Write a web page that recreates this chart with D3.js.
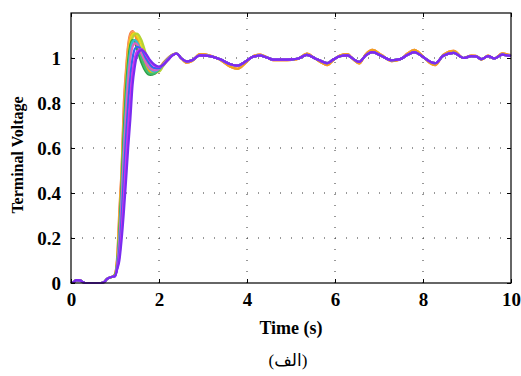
<!DOCTYPE html>
<html><head><meta charset="utf-8">
<script src="https://cdn.jsdelivr.net/npm/d3@7"></script>
<style>
html,body{margin:0;padding:0;background:#fff;}
svg{display:block;}
</style></head>
<body>
<svg id="chart" width="521" height="376"></svg>
<script>
// ---- data ----
const xTicks = [0, 2, 4, 6, 8, 10];
const yTicks = [0, 0.2, 0.4, 0.6, 0.8, 1];
const xTickLabels = ["0", "2", "4", "6", "8", "10"];
const yTickLabels = ["0", "0.2", "0.4", "0.6", "0.8", "1"];

// shared start (all runs identical before the step)
const preT = [0, 0.06, 0.12, 0.2, 0.27, 0.32, 0.68, 0.75, 0.82, 0.88, 0.94];
const preV = [0, 0.004, 0.013, 0.012, 0.004, 0, 0, 0.004, 0.018, 0.024, 0.028];

// step response part, per run
const headT = [1.0, 1.05, 1.1, 1.15, 1.2, 1.25, 1.3, 1.35, 1.4, 1.45, 1.5, 1.6, 1.7, 1.8, 1.9, 2.0, 2.1, 2.2, 2.3, 2.4];
const seriesColors = ["#f5793a", "#ff9f6b", "#f0a020", "#e8d820", "#b5d334", "#2e9e45", "#40c070", "#35b8d8", "#e060c0", "#3366ee", "#cc33ee", "#7a2cf0"];
const seriesHeads = [
  [0.04, 0.12, 0.33, 0.51, 0.80, 0.95, 1.06, 1.11, 1.12, 1.105, 1.075, 1.01, 0.96, 0.935, 0.935, 0.955, 0.98, 1.0, 1.015, 1.02],
  [0.04, 0.11, 0.30, 0.50, 0.76, 0.93, 1.05, 1.10, 1.115, 1.11, 1.09, 1.03, 0.97, 0.94, 0.93, 0.945, 0.975, 1.0, 1.015, 1.02],
  [0.038, 0.105, 0.28, 0.48, 0.73, 0.90, 1.03, 1.09, 1.11, 1.105, 1.085, 1.02, 0.965, 0.94, 0.935, 0.95, 0.975, 0.998, 1.014, 1.02],
  [0.035, 0.10, 0.26, 0.46, 0.70, 0.88, 1.01, 1.08, 1.105, 1.11, 1.10, 1.06, 0.99, 0.95, 0.935, 0.945, 0.97, 0.995, 1.012, 1.02],
  [0.035, 0.09, 0.22, 0.42, 0.64, 0.82, 0.96, 1.05, 1.09, 1.105, 1.108, 1.08, 1.02, 0.965, 0.94, 0.94, 0.965, 0.99, 1.01, 1.02],
  [0.035, 0.09, 0.24, 0.44, 0.68, 0.86, 0.99, 1.06, 1.08, 1.07, 1.04, 0.98, 0.94, 0.925, 0.93, 0.95, 0.975, 0.995, 1.012, 1.02],
  [0.034, 0.085, 0.21, 0.40, 0.63, 0.81, 0.95, 1.04, 1.075, 1.08, 1.065, 1.0, 0.95, 0.93, 0.932, 0.95, 0.973, 0.995, 1.012, 1.02],
  [0.03, 0.08, 0.20, 0.38, 0.60, 0.79, 0.94, 1.03, 1.07, 1.08, 1.07, 1.03, 0.98, 0.95, 0.94, 0.95, 0.972, 0.995, 1.012, 1.02],
  [0.03, 0.08, 0.19, 0.36, 0.56, 0.75, 0.90, 1.00, 1.05, 1.065, 1.06, 1.02, 0.98, 0.955, 0.945, 0.952, 0.972, 0.995, 1.012, 1.02],
  [0.03, 0.07, 0.15, 0.29, 0.47, 0.65, 0.80, 0.92, 1.0, 1.04, 1.05, 1.04, 1.0, 0.97, 0.955, 0.955, 0.97, 0.993, 1.012, 1.02],
  [0.03, 0.065, 0.12, 0.23, 0.38, 0.55, 0.70, 0.83, 0.94, 1.0, 1.03, 1.04, 1.015, 0.985, 0.965, 0.96, 0.97, 0.99, 1.01, 1.02],
  [0.03, 0.06, 0.10, 0.19, 0.31, 0.45, 0.60, 0.73, 0.88, 0.96, 1.01, 1.035, 1.02, 0.99, 0.97, 0.962, 0.97, 0.99, 1.01, 1.02]
];
// which settled tail each run follows (0 = wider swing, 1 = narrower)
const seriesTail = [0, 0, 0, 1, 1, 1, 1, 1, 1, 1, 1, 1];

// settled part
const tailT = [2.5, 2.63, 2.75, 2.93, 3.16, 3.39, 3.61, 3.78, 3.95, 4.11, 4.3, 4.45, 4.6, 4.8, 5.02, 5.17, 5.36, 5.55, 5.7, 5.82, 5.96, 6.11, 6.28, 6.42, 6.55, 6.7, 6.85, 7.06, 7.29, 7.48, 7.65, 7.8, 7.97, 8.15, 8.28, 8.46, 8.7, 8.92, 9.1, 9.2, 9.33, 9.48, 9.62, 9.8, 9.95, 10];
const tailOuter = [1.0, 0.979, 0.986, 1.017, 1.011, 0.992, 0.962, 0.952, 0.975, 1.004, 1.015, 1.003, 0.99, 0.99, 0.992, 0.997, 1.02, 0.997, 0.979, 0.968, 0.99, 1.011, 1.017, 0.993, 0.976, 1.017, 1.036, 1.013, 0.986, 0.993, 1.02, 1.036, 1.013, 0.979, 0.968, 1.014, 1.032, 1.0, 1.011, 1.01, 0.993, 1.011, 0.997, 1.021, 1.014, 1.013];
const tailInner = [1.0, 0.985, 0.99, 1.012, 1.008, 0.994, 0.973, 0.966, 0.982, 1.003, 1.011, 1.002, 0.993, 0.993, 0.994, 0.998, 1.014, 0.998, 0.985, 0.977, 0.993, 1.008, 1.012, 0.995, 0.983, 1.012, 1.026, 1.009, 0.99, 0.995, 1.014, 1.026, 1.009, 0.985, 0.977, 1.01, 1.023, 1.0, 1.008, 1.007, 0.995, 1.008, 0.998, 1.015, 1.01, 1.009];
const tails = [tailOuter, tailInner];

// ---- layout ----
const L = 71, R = 511, T = 13, B = 283;
const svg = d3.select("#chart");
const x = d3.scaleLinear().domain([0, 10]).range([L, R]);
const y = d3.scaleLinear().domain([0, 1.2]).range([B, T]);
const serif = "'Times New Roman', 'Liberation Serif', serif";

// grid (dotted)
const grid = svg.append("g");
grid.selectAll("line.gx").data(xTicks.slice(1, -1)).enter().append("line")
  .attr("x1", d => x(d)).attr("x2", d => x(d)).attr("y1", B).attr("y2", T)
  .attr("stroke", "#333").attr("stroke-width", 1).attr("stroke-dasharray", "1,10");
grid.selectAll("line.gy").data(yTicks.slice(1)).enter().append("line")
  .attr("x1", L).attr("x2", R).attr("y1", d => y(d)).attr("y2", d => y(d))
  .attr("stroke", "#333").attr("stroke-width", 1).attr("stroke-dasharray", "1,10");

// lines
const line = d3.line().x(d => x(d[0])).y(d => y(d[1])).curve(d3.curveMonotoneX);
const plot = svg.append("g");
seriesHeads.forEach((h, i) => {
  const tail = tails[seriesTail[i]];
  const pts = preT.map((t, k) => [t, preV[k]])
    .concat(headT.map((t, k) => [t, h[k]]))
    .concat(tailT.map((t, k) => [t, tail[k]]));
  plot.append("path").datum(pts).attr("d", line)
    .attr("fill", "none").attr("stroke", seriesColors[i]).attr("stroke-width", 2.2)
    .attr("stroke-linejoin", "round");
});

// axes (inward ticks on all four sides)
const tk = 4;
const ax = svg.append("g");
ax.append("g").attr("transform", `translate(0,${B})`)
  .call(d3.axisBottom(x).tickValues(xTicks).tickSize(-tk).tickFormat((d, i) => xTickLabels[i]).tickPadding(10))
  .call(g => g.select(".domain").remove());
ax.append("g").attr("transform", `translate(0,${T})`)
  .call(d3.axisTop(x).tickValues(xTicks).tickSize(-tk).tickFormat(""))
  .call(g => g.select(".domain").remove());
ax.append("g").attr("transform", `translate(${L},0)`)
  .call(d3.axisLeft(y).tickValues(yTicks).tickSize(-tk).tickFormat((d, i) => yTickLabels[i]).tickPadding(10))
  .call(g => g.select(".domain").remove());
ax.append("g").attr("transform", `translate(${R},0)`)
  .call(d3.axisRight(y).tickValues(yTicks).tickSize(-tk).tickFormat(""))
  .call(g => g.select(".domain").remove());
ax.selectAll(".tick line").attr("stroke", "#000");
ax.selectAll(".tick text").attr("font-family", serif).attr("font-weight", "bold")
  .attr("font-size", 19).attr("fill", "#000");

svg.append("rect").attr("x", L).attr("y", T).attr("width", R - L).attr("height", B - T)
  .attr("fill", "none").attr("stroke", "#000").attr("stroke-width", 1.2);

// labels
svg.append("text").attr("x", 291).attr("y", 334).attr("text-anchor", "middle")
  .attr("font-family", serif).attr("font-weight", "bold").attr("font-size", 18)
  .text("Time (s)");
svg.append("text").attr("transform", "translate(23,155) rotate(-90)").attr("text-anchor", "middle")
  .attr("font-family", serif).attr("font-weight", "bold").attr("font-size", 16)
  .text("Terminal Voltage");
svg.append("text").attr("x", 288).attr("y", 366).attr("text-anchor", "middle")
  .attr("font-family", "'Times New Roman', 'Liberation Serif', 'DejaVu Sans', serif").attr("font-size", 17)
  .text("(الف)");
</script>
</body></html>
